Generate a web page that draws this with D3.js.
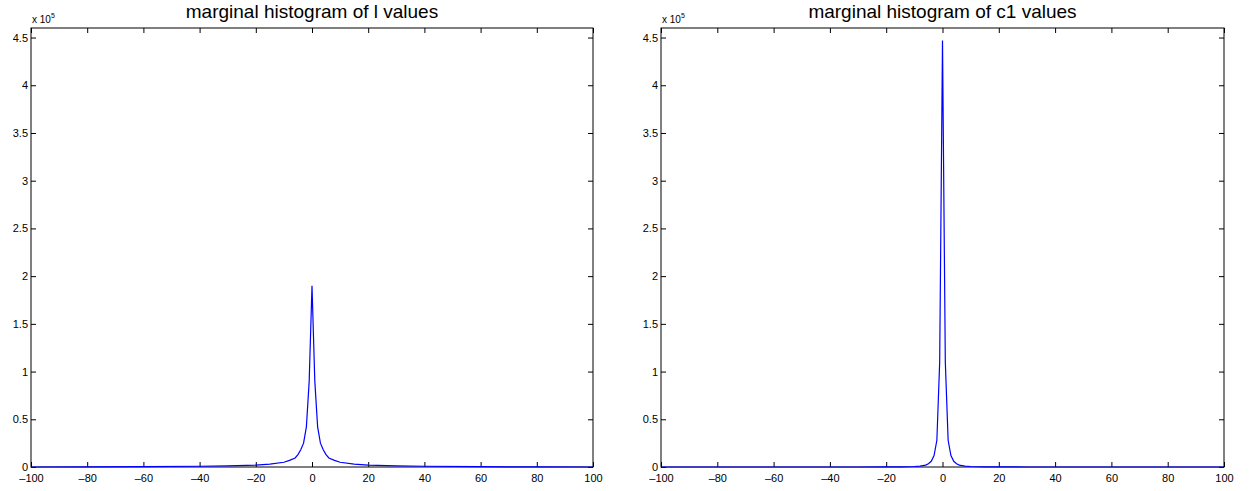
<!DOCTYPE html>
<html>
<head>
  <meta charset="UTF-8" />
  <title>marginal histograms</title>
  <script src="https://d3js.org/d3.v7.min.js"></script>
  <style>
    body { margin: 0; background: #fff; }
    svg { display: block; }
    text { font-family: "Liberation Sans", Arial, Helvetica, sans-serif; fill: #000; }
  </style>
</head>
<body>
  <svg id="chart" width="1255" height="491"></svg>
  <script>
    // bin centres (denser around the peak)
    const binCenters = [-100, -80, -60, -40, -30, -20, -15, -10, -8, -6, -5, -4, -3, -2, -1,
      0, 1, 2, 3, 4, 5, 6, 8, 10, 15, 20, 30, 40, 60, 80, 100];

    // counts for l values
    const lCounts = [0, 100, 300, 800, 1200, 2000, 3000, 5000, 7000, 9500, 13000, 18000, 25000, 42000, 90000,
      190000, 90000, 42000, 25000, 18000, 13000, 9500, 7000, 5000, 3000, 2000, 1200, 800, 300, 100, 0];

    // counts for c1 values
    const c1Counts = [0, 0, 0, 0, 0, 100, 200, 500, 1000, 2000, 3500, 6000, 12000, 28000, 110000,
      447000, 110000, 28000, 12000, 6000, 3500, 2000, 1000, 500, 200, 100, 0, 0, 0, 0, 0];

    const xTicks = [-100, -80, -60, -40, -20, 0, 20, 40, 60, 80, 100];
    const yTicks = [0, 50000, 100000, 150000, 200000, 250000, 300000, 350000, 400000, 450000];

    const panels = [
      { title: "marginal histogram of l values", counts: lCounts, left: 31, right: 593 },
      { title: "marginal histogram of c1 values", counts: c1Counts, left: 661, right: 1224 }
    ];

    const svg = d3.select("#chart");
    const plotTop = 28, plotBottom = 467;

    panels.forEach(p => {
      const g = svg.append("g");
      const x = d3.scaleLinear().domain([-100, 100]).range([p.left, p.right]);
      const y = d3.scaleLinear().domain([0, 460000]).range([plotBottom, plotTop]);

      // bottom axis with labels, inward ticks
      g.append("g")
        .attr("transform", `translate(0,${plotBottom})`)
        .call(d3.axisBottom(x).tickValues(xTicks).tickSizeInner(-5).tickSizeOuter(0).tickPadding(8)
          .tickFormat(d => d < 0 ? "\u2013" + Math.abs(d) : d))
        .call(a => a.select(".domain").remove())
        .call(a => a.selectAll("text").attr("font-size", 11).attr("dy", "0.6em"));
      // top ticks
      g.append("g")
        .attr("transform", `translate(0,${plotTop})`)
        .call(d3.axisTop(x).tickValues(xTicks).tickSizeInner(-5).tickSizeOuter(0).tickFormat(""))
        .call(a => a.select(".domain").remove());
      // left axis
      g.append("g")
        .attr("transform", `translate(${p.left},0)`)
        .call(d3.axisLeft(y).tickValues(yTicks).tickSizeInner(-5).tickSizeOuter(0).tickPadding(3)
          .tickFormat(d => d / 1e5))
        .call(a => a.select(".domain").remove())
        .call(a => a.selectAll("text").attr("font-size", 11));
      // right ticks
      g.append("g")
        .attr("transform", `translate(${p.right},0)`)
        .call(d3.axisRight(y).tickValues(yTicks).tickSizeInner(-5).tickSizeOuter(0).tickFormat(""))
        .call(a => a.select(".domain").remove());

      // box
      g.append("rect")
        .attr("x", p.left).attr("y", plotTop)
        .attr("width", p.right - p.left).attr("height", plotBottom - plotTop)
        .attr("fill", "none").attr("stroke", "#000").attr("stroke-width", 1);

      // histogram line
      const line = d3.line().x((d, i) => x(binCenters[i])).y(d => y(d));
      g.append("path")
        .datum(p.counts)
        .attr("d", line)
        .attr("fill", "none")
        .attr("stroke", "#0000ff")
        .attr("stroke-width", 1.2);

      // exponent label
      const ex = g.append("text").attr("x", p.left + 1).attr("y", 23).attr("font-size", 10);
      ex.append("tspan").text("x 10");
      ex.append("tspan").attr("dy", -5).attr("font-size", 7).text("5");

      // title
      g.append("text")
        .attr("x", (p.left + p.right) / 2).attr("y", 18)
        .attr("text-anchor", "middle")
        .attr("font-size", 19)
        .text(p.title);
    });
  </script>
</body>
</html>
